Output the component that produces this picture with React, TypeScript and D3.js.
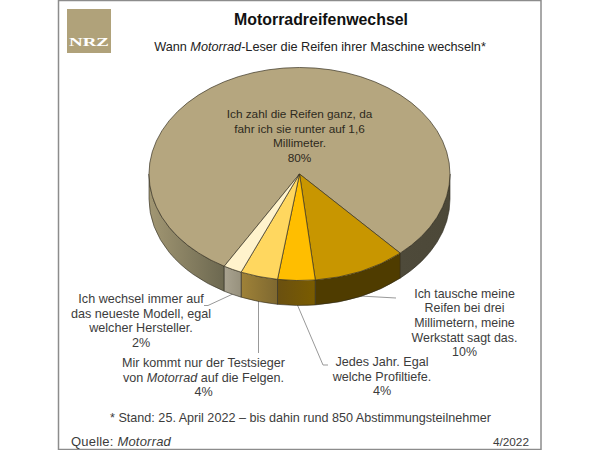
import React from "react";
import * as d3 from "d3";

const shares = [80, 10, 4, 4, 2];
const topColors = ["#B5A67F", "#C89600", "#FFBE00", "#FFD75F", "#FFF3CC"];
const wallRight = ["#6C6850", "#4F3C00", "#7A5C00", "#7E6830", "#97917D"];
const wallLeft = ["#A29773", "#4F3C00", "#6A5010", "#9F8238", "#A9A390"];
const backWallRight = "#4C4838";
const backWallLeft = "#4E4A3A";
const cx = 299.5, cy = 174, rx = 150.5, ry = 106.5, depth = 25;
const START = (210 * Math.PI) / 180;

const pie = d3.pie<number>().sort(null).startAngle(START).endAngle(START + 2 * Math.PI);
const arcs = pie(shares);
const arcGen = d3.arc<d3.PieArcDatum<number>>().innerRadius(0).outerRadius(1);
const px = (a: number) => cx + rx * Math.sin(a);
const py = (a: number) => cy - ry * Math.cos(a);

function wallRanges(a0: number, a1: number, first: boolean) {
  const out: { lo: number; hi: number; back: boolean }[] = [];
  for (const k of [0, 2]) {
    const lo = Math.max(a0 - k * Math.PI, Math.PI / 2);
    const hi = Math.min(a1 - k * Math.PI, (3 * Math.PI) / 2);
    if (lo < hi) out.push({ lo, hi, back: first && k === 2 });
  }
  return out;
}
function wallD(lo: number, hi: number) {
  return (
    `M${px(lo)},${py(lo)}` +
    `A${rx},${ry} 0 0 1 ${px(hi)},${py(hi)}` +
    `L${px(hi)},${py(hi) + depth}` +
    `A${rx},${ry} 0 0 0 ${px(lo)},${py(lo) + depth}Z`
  );
}

const labelFont = "'Liberation Sans', Arial, sans-serif";
const tc = "#3c3c3c";
const fs = 12.6;

type L = { x: number; y: number; size: number; lines: React.ReactNode[] };
const labels: L[] = [
  { x: 299.5, y: 118, size: 11.8, lines: ["Ich zahl die Reifen ganz, da", "fahr ich sie runter auf 1,6", "Millimeter.", "80%"] },
  { x: 464.5, y: 297.5, size: 12.4, lines: ["Ich tausche meine", "Reifen bei drei", "Millimetern, meine", "Werkstatt sagt das.", "10%"] },
  { x: 382, y: 366, size: fs, lines: ["Jedes Jahr. Egal", "welche Profiltiefe.", "4%"] },
  { x: 203.5, y: 367, size: fs, lines: ["Mir kommt nur der Testsieger", <>von <tspan fontStyle="italic">Motorrad</tspan> auf die Felgen.</>, "4%"] },
  { x: 141, y: 303, size: fs, lines: ["Ich wechsel immer auf", "das neueste Modell, egal", "welcher Hersteller.", "2%"] },
];

const leaders = [
  "M360,296 L396,298",
  "M297,304 L323,365 L328,365",
  "M258.5,300 L258.5,353",
  "M235,293 L208,305.5 L204,305.5",
];

export default function App() {
  const walls = arcs.flatMap((d, i) =>
    wallRanges(d.startAngle, d.endAngle, i === 0).map((w, j) => ({ i, j, ...w }))
  );
  return (
    <svg width={600} height={450} style={{ position: "absolute", left: 0, top: 0 }}>
      <defs>
        {walls.map((w) => (
          <linearGradient key={`${w.i}-${w.j}`} id={`g${w.i}-${w.j}`} gradientUnits="userSpaceOnUse"
            x1={px(w.lo)} x2={px(w.hi)} y1={0} y2={0}>
            <stop offset="0" stopColor={w.back ? backWallRight : wallRight[w.i]} />
            <stop offset="1" stopColor={w.back ? backWallLeft : wallLeft[w.i]} />
          </linearGradient>
        ))}
      </defs>
      <rect x={58.5} y={0.5} width={482.5} height={449} fill="#fff" stroke="#8c8c8c" strokeWidth={1.5} />
      <rect x={67} y={9} width={44} height={44} fill="#B0A27A" />
      <text x={89} y={45.5} textAnchor="middle" fontFamily="'Liberation Serif', serif" fontWeight="bold" fontSize={13.5} fill="#fff" textLength={40} lengthAdjust="spacingAndGlyphs">NRZ</text>

      <text x={321} y={25} textAnchor="middle" fontFamily={labelFont} fontWeight="bold" fontSize={15.9} fill="#111">Motorradreifenwechsel</text>
      <text x={320} y={50.5} textAnchor="middle" fontFamily={labelFont} fontSize={12.7} fill="#222">Wann <tspan fontStyle="italic">Motorrad</tspan>-Leser die Reifen ihrer Maschine wechseln*</text>

      {leaders.map((d, i) => <path key={i} d={d} fill="none" stroke="#999" strokeWidth={1} />)}

      {walls.map((w) => (
        <path key={`${w.i}-${w.j}`} d={wallD(w.lo, w.hi)} fill={`url(#g${w.i}-${w.j})`} stroke="#2e2a1e" strokeWidth={0.6} />
      ))}
      <g transform={`translate(${cx},${cy}) scale(${rx},${ry})`}>
        {arcs.map((d, i) => (
          <path key={i} d={arcGen(d)!} fill={topColors[i]} stroke="#3a3424" strokeWidth={0.7} vectorEffect="non-scaling-stroke" />
        ))}
      </g>

      {labels.map((l, i) => (
        <text key={i} textAnchor="middle" fontFamily={labelFont} fontSize={l.size} fill={i === 0 ? "#2e2a20" : tc}>
          {l.lines.map((t, j) => <tspan key={j} x={l.x} y={l.y + j * 14.7}>{t}</tspan>)}
        </text>
      ))}

      <text x={300.5} y={422} textAnchor="middle" fontFamily={labelFont} fontSize={fs} fill={tc}>* Stand: 25. April 2022 – bis dahin rund 850 Abstimmungsteilnehmer</text>
      <text x={71} y={446} fontFamily={labelFont} fontSize={13} letterSpacing={0.2} fill={tc}>Quelle: <tspan fontStyle="italic">Motorrad</tspan></text>
      <text x={529} y={446} textAnchor="end" fontFamily={labelFont} fontSize={11.8} fill={tc}>4/2022</text>
    </svg>
  );
}
